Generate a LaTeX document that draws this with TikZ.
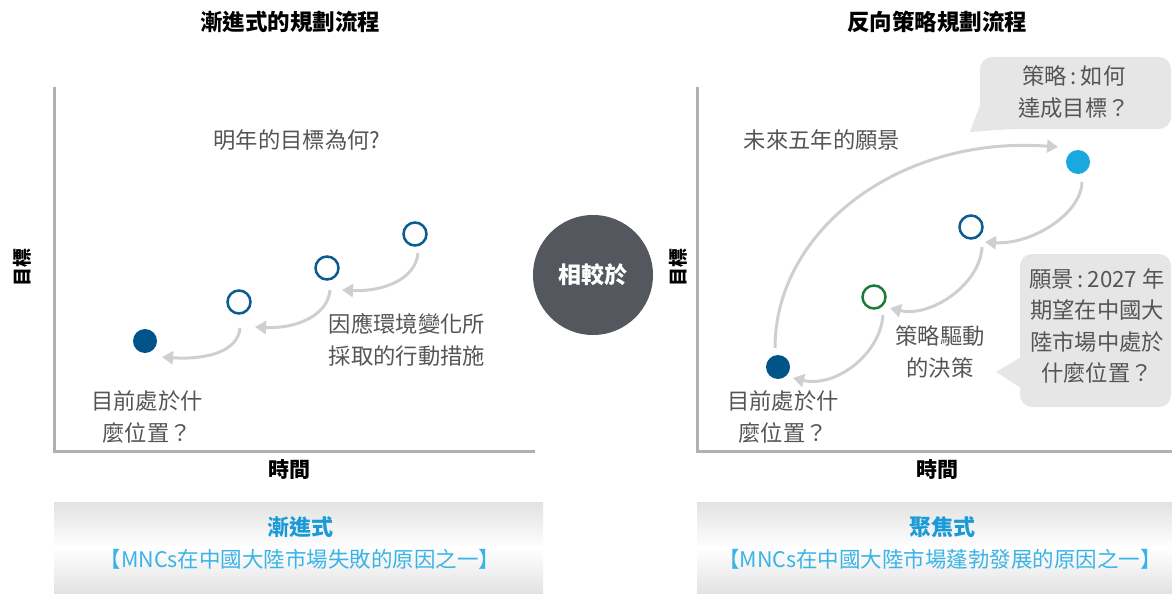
\documentclass[tikz,border=0pt]{standalone}
\usepackage{fontspec}
\setmainfont{Noto Sans CJK TC}
\usetikzlibrary{arrows.meta}
\definecolor{axisgray}{HTML}{B0B0B0}
\definecolor{arrgray}{HTML}{CFCFCF}
\definecolor{txtgray}{HTML}{555555}
\definecolor{darkblue}{HTML}{00548A}
\definecolor{openblue}{HTML}{0B5D91}
\definecolor{opengreen}{HTML}{1D7A3A}
\definecolor{lightblue}{HTML}{1AA8E0}
\definecolor{centergray}{HTML}{54575E}
\definecolor{calloutgray}{HTML}{E6E6E6}
\definecolor{boxgray}{HTML}{E2E2E2}
\definecolor{titleblue}{HTML}{1A9AD6}
\definecolor{subblue}{HTML}{3AB4E6}
\tikzset{
  axisline/.style={draw=axisgray, line width=3pt},
  title/.style={font=\fontsize{22.5}{26}\selectfont\bfseries, text=black},
  axislabel/.style={font=\fontsize{21}{24}\selectfont\bfseries, text=black},
  ylabel/.style={font=\fontsize{19}{22}\selectfont\bfseries, text=black, rotate=90},
  body/.style={font=\fontsize{22.3}{31.5}\selectfont, text=txtgray, align=center},
  dotfill/.style={circle, inner sep=0pt, minimum size=24pt},
  dotopen/.style={circle, inner sep=0pt, minimum size=23pt, line width=2.5pt, fill=white},
  arr/.style={draw=arrgray, line width=3pt, -{Triangle[width=13pt,length=11pt]}},
  callout/.style={fill=calloutgray, draw=none},
  boxtitle/.style={font=\fontsize{22}{25}\selectfont\bfseries, text=titleblue},
  boxsub/.style={font=\fontsize{21.5}{24}\selectfont, text=subblue},
}
\begin{document}
\begin{tikzpicture}[x=1pt,y=1pt]
\useasboundingbox (0,0) rectangle (1172,-594);

% ---------- bottom boxes ----------
\shade[top color=boxgray, bottom color=boxgray, middle color=white] (54,-502) rectangle (543,-594);
\shade[top color=boxgray, bottom color=boxgray, middle color=white] (697,-502) rectangle (1172,-594);
\node[boxtitle] (lbt) at (300,-527) {漸進式};
\node[boxsub] (lbs) at (300,-559) {【MNCs在中國大陸市場失敗的原因之一】};
\node[boxtitle] (rbt) at (942,-527) {聚焦式};
\node[boxsub] (rbs) at (940,-559) {【MNCs在中國大陸市場蓬勃發展的原因之一】};

% ---------- left panel ----------
\node[title] (ltitle) at (290,-22) {漸進式的規劃流程};
\coordinate (lyt) at (54,-87);
\coordinate (lo) at (54,-451);
\coordinate (lxe) at (535,-451);
\draw[axisline] (lyt) -- (lo) -- (lxe);
\node[ylabel] (lylab) at (22,-267) {目標};
\node[axislabel] (lxlab) at (289,-470) {時間};

\node[body] (lq) at (297,-140) {明年的目標為何?};
\node[body, align=left] (lact) at (407,-340) {因應環境變化所\\採取的行動措施};
\node[body] (lnow) at (147,-417) {目前處於什\\麼位置？};

\node[dotfill, fill=darkblue] (c1) at (145,-341) {};
\node[dotopen, draw=openblue] (c2) at (239,-302) {};
\node[dotopen, draw=openblue] (c3) at (327,-268) {};
\node[dotopen, draw=openblue] (c4) at (415,-234) {};

\draw[arr] ([shift={(3,-19)}]c4.center) .. controls +(-2,-25) and +(43,-2) .. ([shift={(15,-22)}]c3.center);
\draw[arr] ([shift={(3,-22)}]c3.center) .. controls +(-2,-25) and +(42,-2) .. ([shift={(16,-25)}]c2.center);
\draw[arr] ([shift={(1,-26)}]c2.center) .. controls +(-2,-24) and +(43,-3) .. ([shift={(17,-16)}]c1.center);

% ---------- center ----------
\node[circle, fill=centergray, minimum size=120pt, inner sep=0pt, text=white,
      font=\fontsize{23}{26}\selectfont\bfseries] (cmp) at (593,-275) {相較於};

% ---------- right panel ----------
\node[title] (rtitle) at (937,-22) {反向策略規劃流程};
\coordinate (ryt) at (697,-87);
\coordinate (ro) at (697,-451);
\coordinate (rxe) at (1172,-451);
\draw[axisline] (ryt) -- (ro) -- (rxe);
\node[ylabel] (rylab) at (678,-267) {目標};
\node[axislabel] (rxlab) at (937,-470) {時間};

% callouts
\path[callout, rounded corners=12pt] (980,-57) rectangle (1171,-129);
\path[callout] (980,-105) -- (970,-132) -- (1012,-129) -- (1012,-110) -- cycle;
\node[body] (cs) at (1074,-92) {策略\,:\,如何\\達成目標？};

\path[callout, rounded corners=12pt] (1020,-254) rectangle (1171,-407);
\path[callout] (1021,-357) -- (996,-372) -- (1021,-388) -- cycle;
\node[body] (cv) at (1097,-326) {願景\,:\,2027 年\\期望在中國大\\陸市場中處於\\什麼位置？};

\node[body] (rvis) at (822,-140) {未來五年的願景};
\node[body] (rdec) at (940,-352) {策略驅動\\的決策};
\node[body] (rnow) at (783,-417) {目前處於什\\麼位置？};

\node[dotfill, fill=lightblue] (r4) at (1078,-162) {};
\node[dotopen, draw=openblue] (r3) at (971,-227) {};
\node[dotopen, draw=opengreen] (r2) at (874,-297) {};
\node[dotfill, fill=darkblue] (r1) at (778,-367) {};

\draw[arr] ([shift={(-3,19)}]r1.center) .. controls +(0,118) and +(-158,12) .. ([shift={(-20,15)}]r4.center);
\draw[arr] ([shift={(4,-20)}]r4.center) .. controls +(-1,-33) and +(45,-3) .. ([shift={(14,-15)}]r3.center);
\draw[arr] ([shift={(11,-20)}]r3.center) .. controls +(-2,-38) and +(40,-10) .. ([shift={(16,-11)}]r2.center);
\draw[arr] ([shift={(9,-18)}]r2.center) .. controls +(-3,-40) and +(42,-10) .. ([shift={(15,-11)}]r1.center);
\end{tikzpicture}
\end{document}
